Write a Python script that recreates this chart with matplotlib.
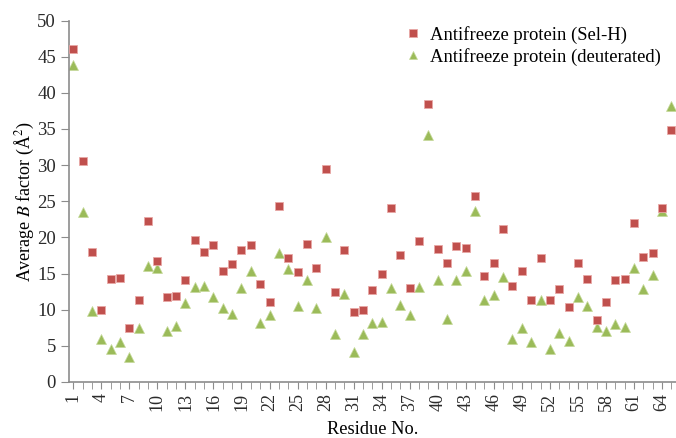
import matplotlib
matplotlib.use("Agg")
import matplotlib.pyplot as plt
import numpy as np

plt.rcParams["font.family"] = ["Liberation Serif", "DejaVu Serif"]
plt.rcParams["mathtext.fontset"] = "stix"

residues = list(range(1, 66))
sel_h = [46, 30.6, 18, 9.9, 14.2, 14.4, 7.5, 11.3, 22.3, 16.8,
         11.8, 11.9, 14.1, 19.7, 18, 18.9, 15.3, 16.3, 18.3, 18.9,
         13.6, 11.1, 24.4, 17.2, 15.2, 19.1, 15.7, 29.4, 12.4, 18.3,
         9.7, 9.9, 12.7, 15, 24, 17.5, 13, 19.5, 38.4, 18.4,
         16.5, 18.8, 18.6, 25.7, 14.7, 16.5, 21.2, 13.3, 15.4, 11.3,
         17.1, 11.4, 12.8, 10.3, 16.5, 14.3, 8.6, 11.1, 14.1, 14.3,
         22, 17.3, 17.8, 24, 34.8]
deuterated = [43.9, 23.5, 9.8, 6, 4.6, 5.5, 3.4, 7.4, 16, 15.8,
              7.1, 7.8, 10.9, 13.2, 13.3, 11.7, 10.2, 9.4, 13, 15.3,
              8.1, 9.3, 17.8, 15.6, 10.5, 14.1, 10.2, 20.1, 6.7, 12.1,
              4.2, 6.7, 8.2, 8.3, 13, 10.6, 9.3, 13.2, 34.2, 14.1,
              8.7, 14.1, 15.4, 23.7, 11.3, 12, 14.5, 5.9, 7.4, 5.5,
              11.3, 4.5, 6.8, 5.7, 11.8, 10.5, 7.6, 7.1, 8, 7.6,
              15.7, 12.9, 14.8, 23.6, 38.2]
labels = ["Antifreeze protein (Sel-H)", "Antifreeze protein (deuterated)"]

fig = plt.figure(figsize=(6.76, 4.38), dpi=100)
ax = fig.add_axes([0.1015, 0.128, 0.8985, 0.825])

ax.plot(residues, sel_h, "s", color="#C0504D", markeredgecolor="#E8A8A6",
        markeredgewidth=0.6, markersize=6.2, label=labels[0], zorder=3)
ax.plot(residues, deuterated, "^", color="#9BBB59", markeredgecolor="#C5D99A",
        markeredgewidth=0.5, markersize=6.8, label=labels[1], zorder=2)

ax.set_xlim(0.5, 65.5)
ax.set_ylim(0, 50)
ax.set_yticks(np.arange(0, 51, 5))
ax.set_xticks(residues[::3])
ax.set_xticks(residues, minor=True)
ax.tick_params(axis="x", which="major", labelrotation=90, labelsize=13,
               length=5, color="#8C8C8C", pad=3)
ax.tick_params(axis="x", which="minor", length=5, color="#8C8C8C")
ax.tick_params(axis="y", labelsize=13.5, length=6, color="#8C8C8C", pad=3)
for lab in ax.get_xticklabels() + ax.get_yticklabels():
    lab.set_color("#2a2a2a")

for s in ["top", "right"]:
    ax.spines[s].set_visible(False)
for s in ["left", "bottom"]:
    ax.spines[s].set_color("#8C8C8C")
    ax.spines[s].set_linewidth(1.2)

ax.set_ylabel("Average $\\it{B}$ factor (Å$^2$)", fontsize=13, labelpad=1)
ax.set_xlabel("Residue No.", fontsize=13.2, labelpad=7)

ax.legend(loc="upper right", bbox_to_anchor=(661 / 676, 1 - 26 / 438),
          bbox_transform=fig.transFigure, frameon=False,
          fontsize=13.4, handlelength=0.6, handletextpad=0.6,
          borderpad=0, borderaxespad=0, labelspacing=0.2, markerscale=0.9)

fig.savefig("out.png", dpi=100)
